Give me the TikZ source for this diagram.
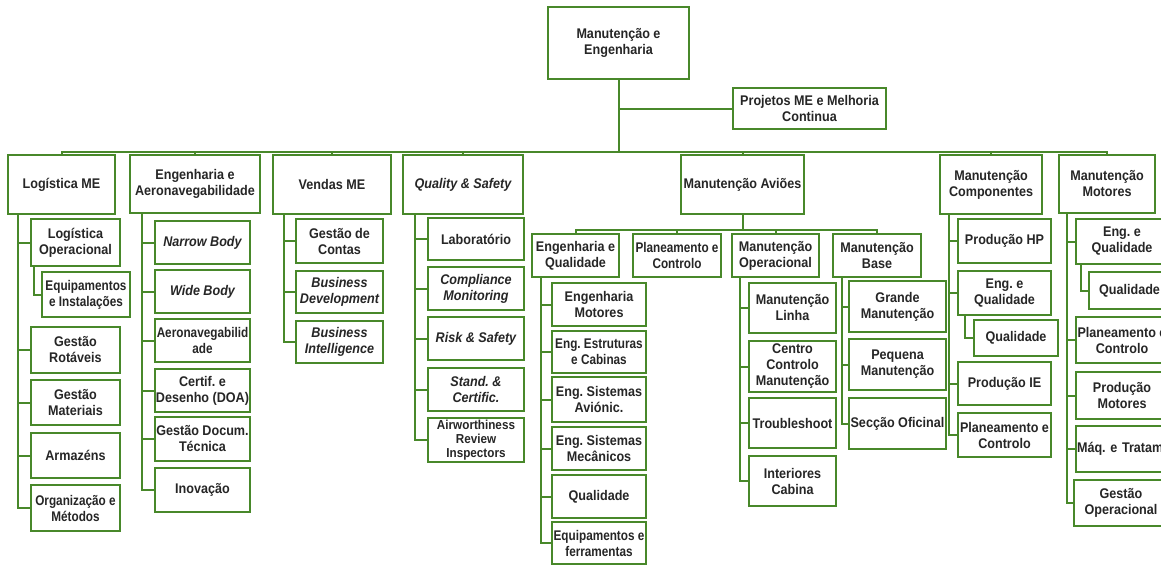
\documentclass[tikz,border=0pt]{standalone}
\usepackage{fontspec}
\setmainfont[FakeStretch=0.9]{Liberation Sans}
\newfontfamily\apertado[FakeStretch=0.84]{Liberation Sans}
\definecolor{verde}{RGB}{72,136,42}
\newcommand\bloco[7][]{\node[caixa,#1,minimum width={#5pt-#3pt},minimum height={#6pt-#4pt}] (#2) at ({(#3+#5)/2},{(#4+#6)/2}) {#7};}
\frenchspacing

\begin{document}
\begin{tikzpicture}[x=1pt,y=-1pt,
    caixa/.style={draw=verde,fill=white,line width=1.8pt,inner sep=0pt,align=center,
      font=\fontsize{14}{16}\selectfont\bfseries,text=black!85},
    ital/.style={font=\fontsize{14}{16}\selectfont\bfseries\itshape},
    aperto/.style={font=\fontsize{14}{16}\selectfont\apertado\bfseries},
    lig/.style={draw=verde,line width=2pt}]
    \useasboundingbox (0,0) rectangle (1161,565);
    \clip (0,0) rectangle (1161,565);
    % topo
    \bloco{manut}{548}{7}{689}{79}{Manutenção e\\Engenharia}
    \bloco{projetos}{733}{88}{886}{129}{Projetos ME e Melhoria\\Continua}
    \coordinate (bus) at (618,152);
    % primeiro nivel
    \bloco{logme}{8}{155}{115}{214}{Logística ME}
    \bloco{engaero}{130}{155}{260}{213}{Engenharia e\\Aeronavegabilidade}
    \bloco{vendas}{273}{155}{391}{214}{Vendas ME}
    \bloco[ital]{quality}{403}{155}{523}{214}{Quality \& Safety}
    \bloco{avioes}{681}{155}{804}{214}{Manutenção Aviões}
    \bloco{compon}{940}{155}{1042}{214}{Manutenção\\Componentes}
    \bloco{motores}{1059}{155}{1155}{213}{Manutenção\\Motores}
    % logistica
    \bloco{logop}{31}{219}{120}{266}{Logística\\Operacional}
    \bloco[aperto]{equip}{42}{272}{130}{317}{Equipamentos\\e Instalações}
    \bloco{rotaveis}{31}{327}{120}{373}{Gestão\\Rotáveis}
    \bloco{materiais}{31}{380}{120}{425}{Gestão\\Materiais}
    \bloco{armazens}{31}{433}{120}{478}{Armazéns}
    \bloco[aperto]{organiz}{31}{485}{120}{531}{Organização e\\Métodos}
    % engenharia e aeronavegabilidade
    \bloco[ital]{narrow}{155}{221}{250}{264}{Narrow Body}
    \bloco[ital]{wide}{155}{270}{250}{313}{Wide Body}
    \bloco[aperto]{aeronav}{155}{319}{250}{362}{Aeronavegabilid\\ade}
    \bloco{certif}{155}{369}{250}{412}{Certif. e\\Desenho (DOA)}
    \bloco{docum}{155}{417}{250}{461}{Gestão Docum.\\Técnica}
    \bloco{inovacao}{155}{468}{250}{512}{Inovação}
    % vendas
    \bloco{contas}{296}{219}{383}{263}{Gestão de\\Contas}
    \bloco[ital]{busdev}{296}{271}{383}{313}{Business\\Development}
    \bloco[ital]{busint}{296}{321}{383}{363}{Business\\Intelligence}
    % quality
    \bloco{lab}{428}{218}{524}{260}{Laboratório}
    \bloco[ital]{compl}{428}{267}{524}{310}{Compliance\\Monitoring}
    \bloco[ital]{risk}{428}{317}{524}{360}{Risk \& Safety}
    \bloco[ital]{stand}{428}{368}{524}{411}{Stand. \&\\Certific.}
    \bloco[font=\fontsize{13}{14}\selectfont\bfseries]{airw}{428}{418}{524}{462}{Airworthiness\\Review\\Inspectors}
    % avioes
    \coordinate (subbus) at (743,230);
    \bloco{engqual}{532}{234}{619}{277}{Engenharia e\\Qualidade}
    \bloco[aperto]{planea}{633}{234}{721}{277}{Planeamento e\\Controlo}
    \bloco{operac}{732}{234}{819}{277}{Manutenção\\Operacional}
    \bloco{base}{833}{234}{921}{277}{Manutenção\\Base}
    \bloco{engmot}{552}{283}{646}{326}{Engenharia\\Motores}
    \bloco[aperto]{estrut}{552}{331}{646}{373}{Eng. Estruturas\\e Cabinas}
    \bloco{avionic}{552}{377}{646}{422}{Eng. Sistemas\\Aviónic.}
    \bloco{mecan}{552}{427}{646}{470}{Eng. Sistemas\\Mecânicos}
    \bloco{qualid}{552}{475}{646}{518}{Qualidade}
    \bloco[aperto]{ferram}{552}{522}{646}{564}{Equipamentos e\\ferramentas}
    \bloco{linha}{749}{283}{836}{333}{Manutenção\\Linha}
    \bloco{centro}{749}{341}{836}{392}{Centro\\Controlo\\Manutenção}
    \bloco{trouble}{749}{398}{836}{448}{Troubleshoot}
    \bloco{interior}{749}{456}{836}{506}{Interiores\\Cabina}
    \bloco{grande}{849}{281}{946}{332}{Grande\\Manutenção}
    \bloco{pequena}{849}{339}{946}{390}{Pequena\\Manutenção}
    \bloco{seccao}{849}{398}{946}{449}{Secção Oficinal}
    % componentes
    \bloco{prodhp}{958}{219}{1051}{263}{Produção HP}
    \bloco{engqc}{958}{271}{1051}{315}{Eng. e\\Qualidade}
    \bloco{qualc}{974}{320}{1058}{356}{Qualidade}
    \bloco{prodie}{958}{362}{1051}{405}{Produção IE}
    \bloco{planc}{958}{413}{1051}{457}{Planeamento e\\Controlo}
    % motores
    \bloco{engqm}{1076}{219}{1168}{264}{Eng. e\\Qualidade}
    \bloco{qualm}{1089}{272}{1170}{309}{Qualidade}
    \bloco{planm}{1076}{317}{1168}{363}{Planeamento e\\Controlo}
    \bloco{prodm}{1076}{372}{1168}{419}{Produção\\Motores}
    \bloco[align=left,text width=90pt]{maq}{1076}{426}{1168}{472}{\rlap{Máq. e Tratamentos}}
    \bloco{gestop}{1074}{480}{1168}{526}{Gestão\\Operacional}
    % ligacoes
    \draw[lig] (manut.south) -- (manut.south |- bus);
    \draw[lig] (manut.south |- projetos.west) -- (projetos.west);
    \draw[lig] (logme.north) |- (bus) -| (motores.north);
    \foreach \n in {engaero,vendas,quality,avioes,compon}
      \draw[lig] (\n.north) -- (\n.north |- bus);
    \foreach \n in {logop,rotaveis,materiais,armazens,organiz}
      \draw[lig] ([xshift=11pt]logme.south west) |- (\n.west);
    \draw[lig] ([xshift=4pt]logop.south west) |- (equip.west);
    \foreach \n in {narrow,wide,aeronav,certif,docum,inovacao}
      \draw[lig] ([xshift=13pt]engaero.south west) |- (\n.west);
    \foreach \n in {contas,busdev,busint}
      \draw[lig] ([xshift=12pt]vendas.south west) |- (\n.west);
    \foreach \n in {lab,compl,risk,stand,airw}
      \draw[lig] ([xshift=13pt]quality.south west) |- (\n.west);
    \draw[lig] (avioes.south) -- (avioes.south |- subbus);
    \draw[lig] (engqual.north) |- (subbus) -| (base.north);
    \foreach \n in {planea,operac}
      \draw[lig] (\n.north) -- (\n.north |- subbus);
    \foreach \n in {engmot,estrut,avionic,mecan,qualid,ferram}
      \draw[lig] ([xshift=10pt]engqual.south west) |- (\n.west);
    \foreach \n in {linha,centro,trouble,interior}
      \draw[lig] ([xshift=9pt]operac.south west) |- (\n.west);
    \foreach \n in {grande,pequena,seccao}
      \draw[lig] ([xshift=10pt]base.south west) |- (\n.west);
    \foreach \n in {prodhp,engqc,prodie,planc}
      \draw[lig] ([xshift=10pt]compon.south west) |- (\n.west);
    \draw[lig] ([xshift=8pt]engqc.south west) |- (qualc.west);
    \foreach \n in {engqm,planm,prodm,maq,gestop}
      \draw[lig] ([xshift=9pt]motores.south west) |- (\n.west);
    \draw[lig] ([xshift=6pt]engqm.south west) |- (qualm.west);
\end{tikzpicture}
\end{document}
